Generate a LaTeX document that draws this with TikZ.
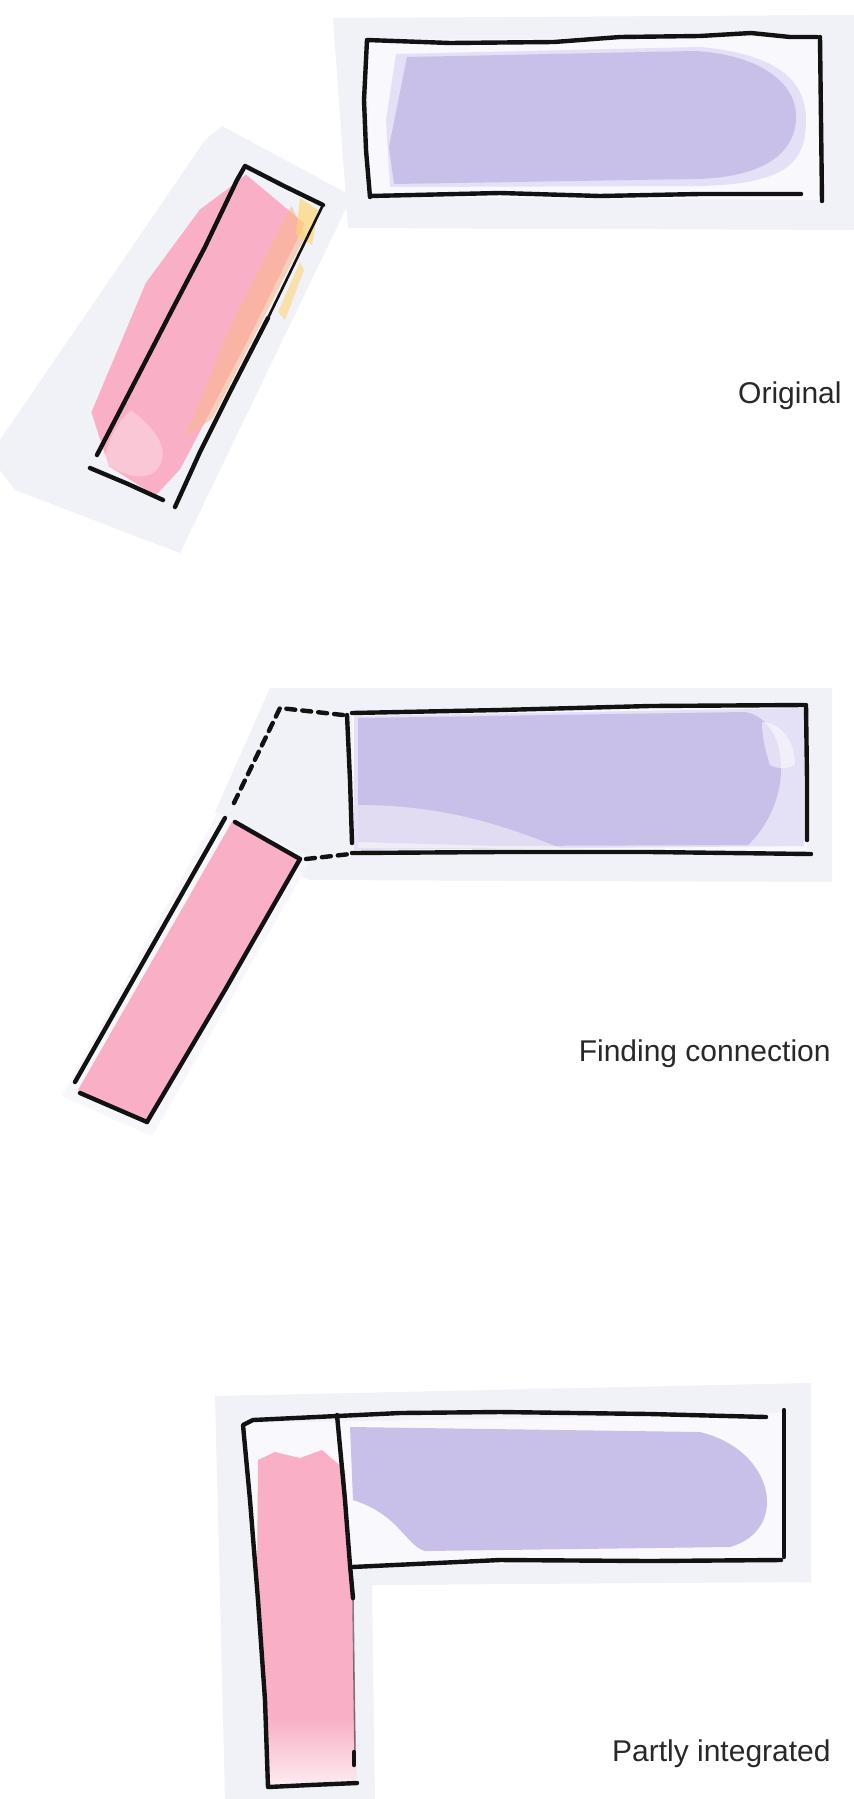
\documentclass[tikz,border=0pt]{standalone}
\usepackage{fontspec}
\setmainfont{Liberation Sans}
\definecolor{halo}{RGB}{241,241,248}
\definecolor{inner}{RGB}{249,248,253}
\definecolor{lav}{RGB}{201,192,233}
\definecolor{lavlight}{RGB}{228,224,245}
\definecolor{pinkA}{RGB}{249,176,198}
\definecolor{orangeA}{RGB}{250,184,140}
\definecolor{yellowA}{RGB}{253,214,120}
\definecolor{inkc}{RGB}{18,18,18}
\definecolor{txt}{RGB}{40,40,40}
\begin{document}
\begin{tikzpicture}[x=0.5pt,y=-0.5pt,line cap=round,line join=round]
\tikzset{
  inkline/.style={draw=inkc,line width=2.2pt},
  thinink/.style={draw=inkc,line width=1.3pt},
  dashink/.style={draw=inkc,line width=2.2pt,dash pattern=on 4.5pt off 3.5pt},
  lbl/.style={anchor=east,inner sep=0pt,text=txt,font=\fontsize{15}{18}\selectfont}
}
\useasboundingbox (0,0) rectangle (854,1799);
\fill[white] (0,0) rectangle (854,1799);

% ================= Panel 1 =================
\fill[halo] (333,18) -- (854,15) -- (854,230) -- (348,228) -- cycle;
\fill[halo] (222,126) -- (352,196) -- (180,553) -- (15,490) -- (0,470) -- (0,440) -- (130,250) -- (205,140) -- cycle;
% purple rect interior
\fill[inner] (367,40) -- (817,36) -- (821,200) -- (370,197) -- cycle;
\fill[lavlight] (396,54) -- (700,47) .. controls (790,55) and (806,90) .. (806,120) .. controls (806,160) and (790,184) .. (700,186) -- (390,187) -- (386,120) -- cycle;
\fill[lav] (407,57) -- (694,51) .. controls (755,54) and (795,80) .. (796,115) .. controls (797,155) and (760,178) .. (694,179) -- (394,184) -- (389,147) -- cycle;
% pink wash
\fill[pinkA] (235.9,182.8) -- (245.8,174.4) -- (304.8,223.8) -- (249.9,336.2) -- (180.2,469.1) -- (155.4,495.7) -- (108.8,466.2) -- (91.4,412.3) -- (145.9,282.8) -- (200,209.4) -- cycle;
\fill[white,opacity=0.3] (131.6,410.4) .. controls (150,425) and (170,445) .. (160,465) .. controls (150,485) and (120,475) .. (104,462) .. controls (108,440) and (118,420) .. cycle;
\fill[orangeA,opacity=0.55] (291.5,205.8) -- (305.6,235.4) -- (212.8,418.3) -- (184.9,437.7) -- (230.3,326.2) -- cycle;
\fill[yellowA,opacity=0.7] (300,198) -- (318,210) -- (312,245) -- (296,235) -- cycle;
\fill[yellowA,opacity=0.6] (300,262) -- (304,270) -- (285,320) -- (278,312) -- cycle;
% purple rect lines
\draw[inkline] (370,197) -- (366,150) -- (364,100) -- (367,40) -- (450,43) -- (554,42) -- (620,37) -- (700,36) -- (751,33) -- (790,37) -- (817,37);
\draw[inkline] (820,37) -- (821,120) -- (822,201);
\draw[inkline] (370,196) -- (500,193) -- (600,196) -- (700,194) -- (801,194);
% pink rect lines
\draw[inkline] (97,455) -- (140,372) -- (172,310) -- (205,247) -- (237,180) -- (245,166) -- (284,186) -- (323,205);
\draw[thinink] (323,205) -- (300,252) -- (268,318);
\draw[inkline] (268,318) -- (230,392) -- (200,452) -- (175,507);
\draw[inkline] (90,468) -- (128,484) -- (163,500);
\node[lbl] (lorig) at (842,396) {Original};

% ================= Panel 2 =================
\fill[halo] (270,688) -- (832,688) -- (832,882) -- (310,880) -- (285,870) -- (215,812) -- cycle;
\fill[halo!60!white] (218,812) -- (312,858) -- (152,1136) -- (62,1096) -- cycle;
\fill[inner] (352,713) -- (806,705) -- (807,853) -- (352,853) -- cycle;
\fill[lavlight] (354,716) -- (804,708) -- (804,846) -- (354,850) -- cycle;
\fill[lav] (358,718) -- (745,712) .. controls (790,720) and (795,800) .. (748,845) -- (500,846) -- (358,842) -- cycle;
\fill[white,opacity=0.45] (358,805) .. controls (420,805) and (480,815) .. (560,848) -- (358,848) -- cycle;
\fill[white,opacity=0.5] (762,722) .. controls (780,722) and (795,740) .. (795,765) .. controls (785,770) and (775,768) .. (770,765) .. controls (765,750) and (762,735) .. cycle;
% pink
\fill[pinkA] (233,820) -- (300,859) -- (147,1122) -- (78,1090) -- cycle;
% lines
\draw[inkline] (347,715) -- (350,780) -- (352,843);
\draw[inkline] (352,713) -- (500,710) -- (650,706) -- (804,705);
\draw[inkline] (806,705) -- (807,780) -- (807,840);
\draw[inkline] (352,853) -- (500,852) -- (650,852) -- (811,854);
\draw[dashink] (343,715) -- (280,708) -- (232,807);
\draw[dashink] (306,859) -- (350,854);
\draw[inkline] (235,822) -- (300,859);
\draw[inkline] (225,818) -- (150,950) -- (75,1082);
\draw[inkline] (300,859) -- (225,990) -- (147,1122);
\draw[inkline] (80,1093) -- (147,1122);
\node[lbl] (lfind) at (831,1054) {Finding connection};

% ================= Panel 3 =================
\fill[halo] (215,1396) -- (811,1383) -- (811,1582) -- (372,1585) -- (375,1799) -- (225,1799) -- cycle;
\fill[inner] (245,1423) -- (766,1414) -- (784,1412) -- (784,1560) -- (352,1566) -- (356,1785) -- (268,1787) -- cycle;
\fill[lav] (350,1427) -- (700,1432) .. controls (775,1450) and (790,1530) .. (730,1547) -- (425,1551) .. controls (405,1545) and (400,1515) .. (353,1500) -- cycle;
\fill[pinkA] (258,1460) -- (275,1452) -- (300,1458) -- (322,1450) -- (345,1470) -- (352,1580) -- (355,1720) -- (264,1720) -- (257,1580) -- cycle;
\shade[top color=pinkA,bottom color=pinkA!25!white] (264,1719) -- (355,1719) -- (357,1783) -- (268,1785) -- cycle;
% lines
\draw[inkline] (766,1417) -- (650,1414) -- (500,1412) -- (400,1413) -- (253,1420) -- (243,1425) -- (250,1500) -- (258,1600) -- (265,1700) -- (268,1787) -- (310,1785) -- (357,1783);
\draw[inkline] (784,1410) -- (784,1557);
\draw[inkline] (352,1567) -- (500,1560) -- (650,1561) -- (781,1560);
\draw[inkline] (337,1415) -- (345,1500) -- (350,1565) -- (353,1598);
\draw[draw=inkc,line width=0.8pt,opacity=0.5] (353,1598) -- (355,1755);
\draw[inkline] (354,1752) -- (354,1765);
\node[lbl] (lpart) at (831,1754) {Partly integrated};
\end{tikzpicture}
\end{document}
